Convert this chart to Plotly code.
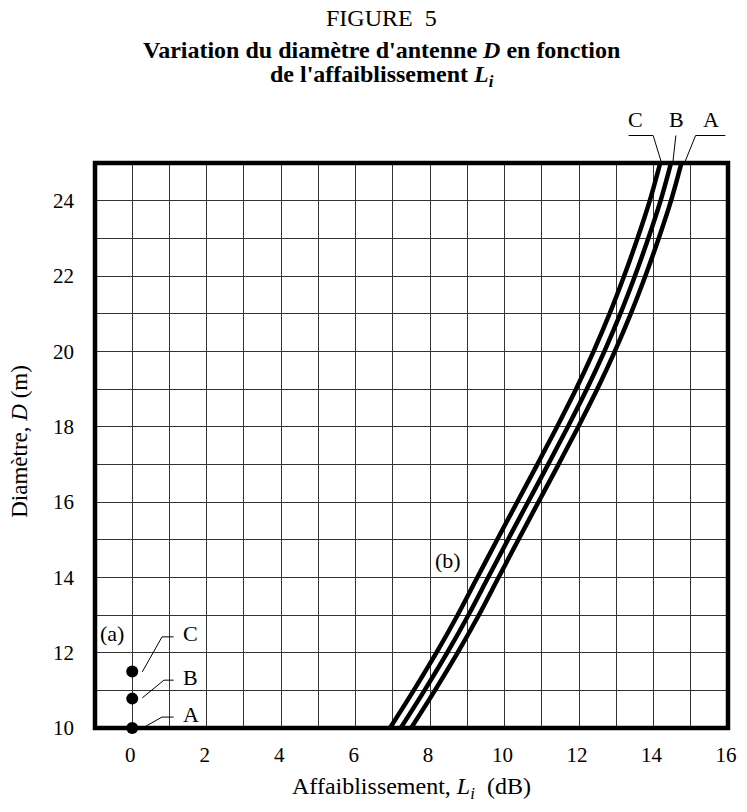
import plotly.graph_objects as go

# ---- data ----
D_values = [10, 11, 12, 13, 14, 15, 16, 17, 18, 19, 20, 21, 22, 23, 24, 25]
L_curve_C = [6.92, 7.56, 8.17, 8.74, 9.27, 9.80, 10.34, 10.88, 11.41, 11.92, 12.39, 12.82, 13.21, 13.57, 13.90, 14.18]
L_curve_B = [7.21, 7.85, 8.46, 9.03, 9.56, 10.09, 10.63, 11.17, 11.70, 12.21, 12.68, 13.11, 13.50, 13.86, 14.19, 14.47]
L_curve_A = [7.49, 8.13, 8.74, 9.31, 9.84, 10.37, 10.91, 11.45, 11.98, 12.49, 12.96, 13.39, 13.78, 14.14, 14.47, 14.75]

points_a_L = [0, 0, 0]
points_a_D = [10.0, 10.78, 11.5]

x_ticks = [0, 2, 4, 6, 8, 10, 12, 14, 16]
y_ticks = [10, 12, 14, 16, 18, 20, 22, 24]

FONT = "Liberation Serif, Times New Roman, serif"
X_RANGE = [-1, 16]
Y_RANGE = [10, 25]
PLOT_TOP_PX, PLOT_H_PX = 163, 565
PLOT_L_PX, PLOT_W_PX = 95, 642


def py(d):
    """data D -> paper y"""
    return (d - Y_RANGE[0]) / (Y_RANGE[1] - Y_RANGE[0])


def pix_y(p):
    """pixel row -> paper y"""
    return (PLOT_TOP_PX + PLOT_H_PX - p) / PLOT_H_PX


def pix_x(p):
    return (p - PLOT_L_PX) / PLOT_W_PX


fig = go.Figure()
for name, xs in (("C", L_curve_C), ("B", L_curve_B), ("A", L_curve_A)):
    fig.add_trace(go.Scatter(x=xs, y=D_values, mode="lines", name=name,
                             line=dict(color="black", width=4.5, shape="spline", smoothing=1.0),
                             showlegend=False, hoverinfo="skip"))

fig.add_trace(go.Scatter(x=points_a_L, y=points_a_D, mode="markers",
                         marker=dict(color="black", size=12),
                         cliponaxis=False, showlegend=False, hoverinfo="skip"))

shapes = []
annotations = []
LBL = dict(family=FONT, size=22, color="black")

# leaders for (a)
lead_a = {
    "C": [(0.27, 11.49), (0.8, 12.42), (1.11, 12.42)],
    "B": [(0.27, 10.8), (0.85, 11.27), (1.11, 11.27)],
    "A": [(0.37, 10.05), (0.8, 10.29), (1.11, 10.29)],
}
lab_a = {"C": (1.56, 12.52), "B": (1.56, 11.33), "A": (1.59, 10.35)}
for k, pts in lead_a.items():
    for (x0, y0), (x1, y1) in zip(pts[:-1], pts[1:]):
        shapes.append(dict(type="line", xref="x", yref="y", x0=x0, y0=y0, x1=x1, y1=y1,
                           line=dict(color="black", width=1)))
    annotations.append(dict(x=lab_a[k][0], y=lab_a[k][1], xref="x", yref="y", text=k,
                            showarrow=False, font=LBL))

# leaders for (b) labels at top of the frame
LEAD_Y = 25.73
lead_b = {
    "C": [(13.33, LEAD_Y), (13.99, LEAD_Y), (14.21, 25.02)],
    "B": [(14.6, LEAD_Y), (14.52, 25.02)],
    "A": [(15.93, LEAD_Y), (15.13, LEAD_Y), (14.84, 25.02)],
}
lab_b_x = {"C": 13.52, "B": 14.63, "A": 15.53}
for k, pts in lead_b.items():
    for (x0, y0), (x1, y1) in zip(pts[:-1], pts[1:]):
        shapes.append(dict(type="line", xref="x", yref="paper", x0=x0, y0=py(y0), x1=x1, y1=py(y1),
                           line=dict(color="black", width=1)))
    annotations.append(dict(x=lab_b_x[k], y=py(LEAD_Y) + 2 / PLOT_H_PX, xref="x", yref="paper",
                            text=k, showarrow=False, yanchor="bottom", font=LBL))

annotations.append(dict(x=-0.55, y=12.52, xref="x", yref="y", text="(a)", showarrow=False, font=LBL))
annotations.append(dict(x=8.47, y=14.46, xref="x", yref="y", text="(b)", showarrow=False, font=LBL))

# titles
TX = pix_x(386)
annotations.append(dict(x=TX, y=pix_y(18), xref="paper", yref="paper",
                        text="FIGURE&nbsp;&nbsp;5", showarrow=False, yanchor="middle",
                        font=dict(family=FONT, size=24, color="black")))
annotations.append(dict(x=TX, y=pix_y(50), xref="paper", yref="paper",
                        text="<b>Variation du diamètre d'antenne <i>D</i> en fonction</b>",
                        showarrow=False, yanchor="middle",
                        font=dict(family=FONT, size=24, color="black")))
annotations.append(dict(x=TX, y=pix_y(76), xref="paper", yref="paper",
                        text="<b>de l'affaiblissement <i>L<sub>i</sub></i></b>",
                        showarrow=False, yanchor="middle",
                        font=dict(family=FONT, size=24, color="black")))
# axis titles
annotations.append(dict(x=0.5, y=pix_y(788), xref="paper", yref="paper",
                        text="Affaiblissement, <i>L<sub>i</sub></i>&nbsp;&nbsp;(dB)",
                        showarrow=False, yanchor="middle",
                        font=dict(family=FONT, size=24, color="black")))
annotations.append(dict(x=pix_x(19), y=17.6, xref="paper", yref="y",
                        text="Diamètre, <i>D</i> (m)", textangle=-90,
                        showarrow=False, xanchor="center", yanchor="middle",
                        font=dict(family=FONT, size=23, color="black")))

# frame
shapes.append(dict(type="rect", xref="paper", yref="paper", x0=0, y0=0, x1=1, y1=1,
                   line=dict(color="black", width=4.5), layer="above"))

grid_col = "#333333"
TICKF = dict(family=FONT, size=21, color="black")
fig.update_layout(
    width=747, height=812,
    margin=dict(l=95, r=10, t=163, b=84),
    paper_bgcolor="white", plot_bgcolor="white",
    shapes=shapes, annotations=annotations,
    font=dict(family=FONT, size=22, color="black"),
    hovermode=False,
    xaxis=dict(range=X_RANGE, tickvals=x_ticks, showgrid=True, gridcolor=grid_col, gridwidth=1,
               zeroline=False, showline=False, ticks="", ticklabelstandoff=12,
               ticklabeloverflow="allow", ticklabelshift=-2,
               minor=dict(dtick=1, tick0=0, showgrid=True, gridcolor=grid_col, gridwidth=1),
               tickfont=TICKF),
    yaxis=dict(range=Y_RANGE, tickvals=y_ticks, showgrid=True, gridcolor=grid_col, gridwidth=1,
               zeroline=False, showline=False, ticks="", ticklabelstandoff=20,
               ticklabeloverflow="allow",
               minor=dict(dtick=1, tick0=10, showgrid=True, gridcolor=grid_col, gridwidth=1),
               tickfont=TICKF),
)

fig.write_html(
    "out.html",
    config={"displayModeBar": False, "staticPlot": True},
    post_script="document.body.style.margin='0';document.documentElement.style.overflow='hidden';",
)
